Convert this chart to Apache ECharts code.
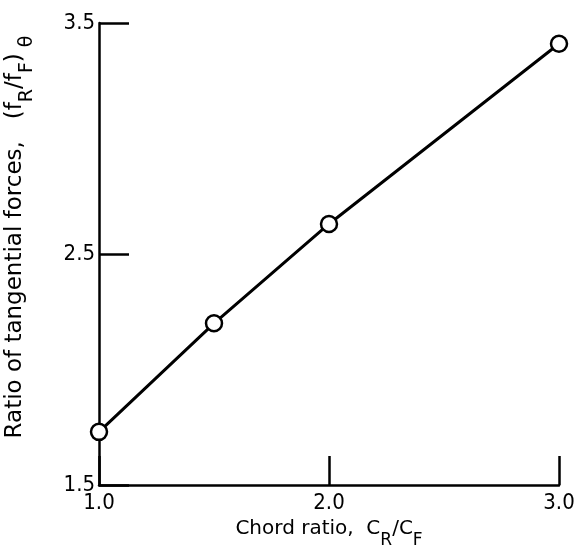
<!DOCTYPE html>
<html>
<head>
<meta charset="utf-8">
<script src="https://cdn.jsdelivr.net/npm/echarts@6/dist/echarts.min.js"></script>
<style>
  html, body { margin: 0; padding: 0; background: #fff; }
  #chart { width: 579px; height: 554px; }
</style>
</head>
<body>
<div id="chart"></div>
<script>
// Chord ratio vs. ratio of tangential forces
const chordRatio = [1.0, 1.5, 2.0, 3.0];
const forceRatio = [1.73, 2.2, 2.63, 3.41];

const xTickValues = [1.0, 2.0, 3.0];
const yTickValues = [1.5, 2.5, 3.5];

const tickFont = '"DejaVu Sans Condensed", "DejaVu Sans", sans-serif';
const titleFont = '"DejaVu Sans", sans-serif';

function titleRich(size, subSize) {
  return {
    pad: { fontSize: 1, lineHeight: size + 10 },
    n: { fontFamily: titleFont, fontSize: size, color: '#000', lineHeight: size + 3, verticalAlign: 'top' },
    s: { fontFamily: titleFont, fontSize: subSize, color: '#000', lineHeight: subSize, verticalAlign: 'bottom' }
  };
}

const chart = echarts.init(document.getElementById('chart'), null, { renderer: 'canvas' });

chart.setOption({
  animation: false,
  backgroundColor: '#fff',
  grid: { left: 99, right: 20, top: 23, bottom: 69, containLabel: false, outerBoundsMode: 'none' },
  xAxis: {
    type: 'value',
    min: 1,
    max: 3,
    interval: 1,
    name: '{pad|}{n|Chord ratio,  C}{s|R}{n|/C}{s|F}',
    nameLocation: 'middle',
    nameGap: 22,
    nameTextStyle: { rich: titleRich(20, 17) },
    axisLine: { show: true, onZero: false, lineStyle: { color: '#000', width: 2.5 } },
    axisTick: { show: true, inside: true, length: 29, lineStyle: { color: '#000', width: 2.5 } },
    axisLabel: {
      margin: 7,
      fontFamily: tickFont,
      fontSize: 22,
      color: '#000',
      formatter: v => xTickValues.includes(v) ? v.toFixed(1) : ''
    },
    splitLine: { show: false }
  },
  yAxis: {
    type: 'value',
    min: 1.5,
    max: 3.5,
    interval: 1,
    name: '{pad|}{n|Ratio of tangential forces,   (f}{s|R}{n|/f}{s|F}{n|)}{s| θ}',
    nameLocation: 'middle',
    nameRotate: 90,
    nameGap: 62,
    nameTextStyle: { rich: titleRich(23, 19), padding: [0, 0, 0, 34] },
    axisLine: { show: true, onZero: false, lineStyle: { color: '#000', width: 2.5 } },
    axisTick: { show: true, inside: true, length: 30, lineStyle: { color: '#000', width: 2.5 } },
    axisLabel: {
      margin: 4,
      fontFamily: tickFont,
      fontSize: 22,
      color: '#000',
      formatter: v => yTickValues.some(t => Math.abs(t - v) < 1e-9) ? v.toFixed(1) : ''
    },
    splitLine: { show: false }
  },
  series: [{
    type: 'line',
    data: chordRatio.map((x, i) => [x, forceRatio[i]]),
    symbol: 'circle',
    symbolSize: 16,
    showAllSymbol: true,
    lineStyle: { color: '#000', width: 3 },
    itemStyle: { color: '#fff', borderColor: '#000', borderWidth: 2.5 },
    z: 3
  }]
});
</script>
</body>
</html>
